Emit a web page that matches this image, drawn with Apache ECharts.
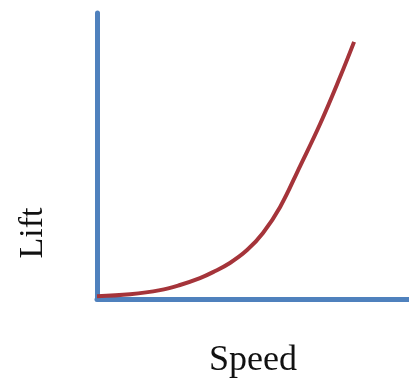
<!DOCTYPE html>
<html>
<head>
<meta charset="utf-8">
<script src="https://cdn.jsdelivr.net/npm/echarts@6/dist/echarts.min.js"></script>
<style>
  html, body { margin: 0; padding: 0; background: #fff; }
  #chart { width: 409px; height: 385px; }
</style>
</head>
<body>
<div id="chart"></div>
<script>
// speed vs lift curve (axes 0..100)
const speed = [0, 10.6, 20.2, 26.6, 33.0, 37.2, 42.6, 48.1, 53.2, 58.7, 65.1, 71.5, 77.9, 82.4];
const lift  = [1.0, 1.7, 3.1, 4.9, 7.3, 9.4, 12.6, 17.1, 23.1, 32.2, 46.5, 61.2, 77.6, 89.9];

const chart = echarts.init(document.getElementById('chart'));
const axisBlue = '#4F81BD';
const curveRed = '#A5343A';
const serif = '"Liberation Serif", "DejaVu Serif", serif';

chart.setOption({
  animation: false,
  grid: { left: 97, right: 0, top: 13, bottom: 86 },
  xAxis: {
    type: 'value',
    min: 0,
    max: 100,
    name: 'Speed',
    nameLocation: 'middle',
    nameGap: 44,
    nameTextStyle: { fontFamily: serif, fontSize: 36, color: '#111' },
    axisLine: { show: true, onZero: false, lineStyle: { color: axisBlue, width: 5 } },
    axisTick: { show: false },
    axisLabel: { show: false },
    splitLine: { show: false }
  },
  yAxis: {
    type: 'value',
    min: 0,
    max: 100,
    axisLine: { show: true, onZero: false, lineStyle: { color: axisBlue, width: 5 } },
    axisTick: { show: false },
    axisLabel: { show: false },
    splitLine: { show: false }
  },
  graphic: [{
    type: 'text',
    x: 50,
    y: 233,
    rotation: Math.PI / 2,
    style: {
      text: 'Lift',
      font: '34px ' + serif,
      fill: '#111',
      align: 'center',
      verticalAlign: 'bottom'
    }
  }],
  series: [{
    type: 'line',
    smooth: 0.4,
    symbol: 'none',
    lineStyle: { color: curveRed, width: 4 },
    data: speed.map((s, i) => [s, lift[i]])
  }]
});
</script>
</body>
</html>
